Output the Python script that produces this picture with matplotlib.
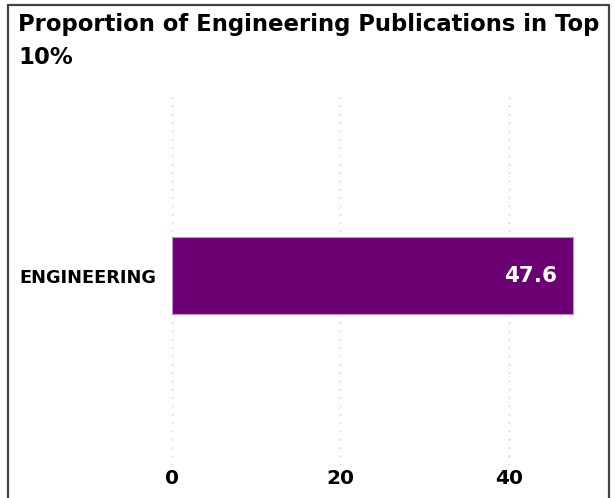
import matplotlib
matplotlib.use("Agg")
import matplotlib.pyplot as plt
from matplotlib.patches import Rectangle

categories = ["ENGINEERING"]
values = [47.6]
xticks = [0, 20, 40]
title = "Proportion of Engineering Publications in Top\n10%"

plt.rcParams['font.family'] = ['DejaVu Sans']

fig = plt.figure(figsize=(6.15, 4.98), dpi=100)
W, H = 615, 498
ax = fig.add_axes([172 / W, (H - 465) / H, (593 - 172) / W, 370 / H])

bars = ax.barh(categories, values, height=0.8, color="#6a0072",
               edgecolor="#c48fcc", linewidth=0.8, zorder=3)
for b, v in zip(bars, values):
    ax.text(b.get_width() - 1.9, b.get_y() + b.get_height() / 2, f"{v}",
            ha="right", va="center", color="white", fontsize=15.5,
            fontweight="bold", zorder=4)

ax.set_xlim(0, 50)
ax.set_ylim(-1.97, 1.88)
ax.set_xticks(xticks)
ax.set_xticklabels([str(t) for t in xticks], fontsize=14.5, fontweight="bold")
for lbl in ax.get_yticklabels():
    lbl.set_fontsize(12.8)
    lbl.set_fontweight("bold")
ax.tick_params(axis="both", length=0)
ax.tick_params(axis="x", pad=3)
ax.tick_params(axis="y", pad=11)
ax.grid(axis="x", linestyle=(0, (1, 5)), color="#c8c8c8", linewidth=1, zorder=0)
for s in ax.spines.values():
    s.set_visible(False)

fig.text(18 / W, 1 - 13 / H, title, ha="left", va="top", fontsize=16.4,
         fontweight="bold", linespacing=1.55)

border = Rectangle((7.5 / W, -0.1), (609 - 7.5) / W, (H - 5.5) / H + 0.1,
                   transform=fig.transFigure, fill=False, edgecolor="#444444",
                   linewidth=1.6)
fig.add_artist(border)

fig.savefig("out.png", dpi=100)
